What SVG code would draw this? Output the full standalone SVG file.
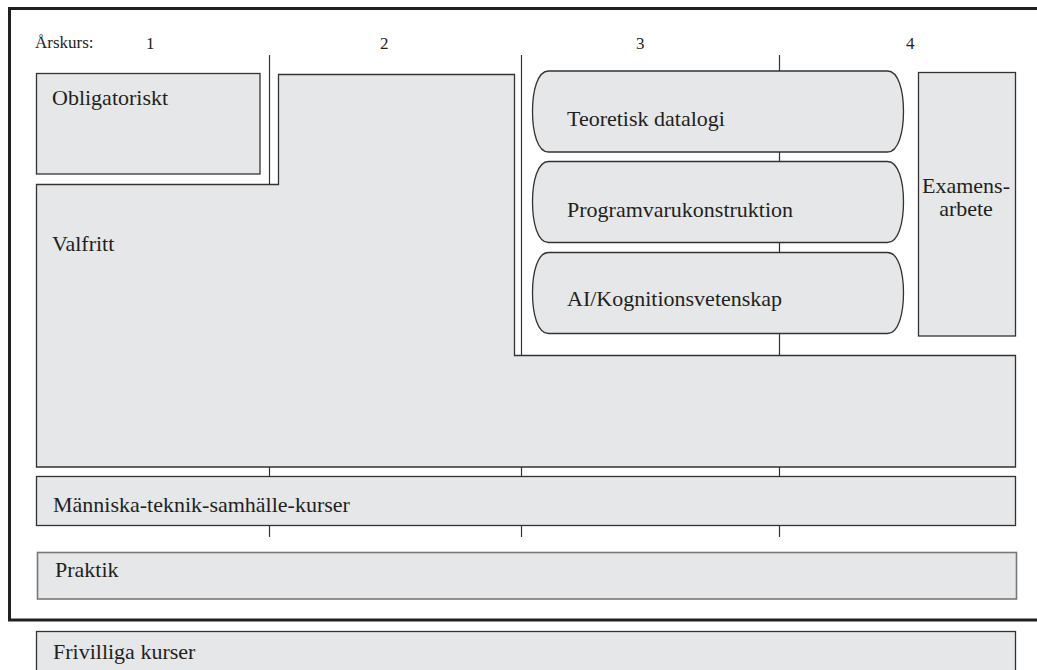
<svg xmlns="http://www.w3.org/2000/svg" width="1037" height="670" viewBox="0 0 1037 670">
<style>
text{font-family:"Liberation Serif","Times New Roman",serif;fill:#231f20}
.lbl{font-size:22px}
.yr{font-size:17px}
.box{fill:#e6e7e8;stroke:#333;stroke-width:1.3}
.ln{stroke:#333;stroke-width:1.2;fill:none}
</style>
<defs>
<path id="pill" d="M16 0 H355 C366 0 371 20 371 40.5 C371 61 366 81 355 81 H16 C5 81 0 61 0 40.5 C0 20 5 0 16 0 Z"/>
</defs>
<rect width="1037" height="670" fill="#fff"/>
<path d="M1040 8.5 H9.5 V620 H1040" fill="none" stroke="#231f20" stroke-width="3"/>
<g id="labels">
<text class="yr" x="35" y="48">Årskurs:</text>
<text class="yr" x="146" y="49">1</text>
<text class="yr" x="380" y="49">2</text>
<text class="yr" x="636" y="49">3</text>
<text class="yr" x="906" y="49">4</text>
</g>
<g id="connectors">
<line class="ln" x1="269.5" y1="55" x2="269.5" y2="184"/>
<line class="ln" x1="521.5" y1="55" x2="521.5" y2="355"/>
<line class="ln" x1="779.5" y1="55" x2="779.5" y2="355"/>
<line class="ln" x1="269.5" y1="467" x2="269.5" y2="476"/>
<line class="ln" x1="521.5" y1="467" x2="521.5" y2="476"/>
<line class="ln" x1="779.5" y1="467" x2="779.5" y2="476"/>
<line class="ln" x1="269.5" y1="525" x2="269.5" y2="537"/>
<line class="ln" x1="521.5" y1="525" x2="521.5" y2="537"/>
<line class="ln" x1="779.5" y1="525" x2="779.5" y2="537"/>
</g>
<g id="obligatoriskt">
<rect class="box" x="36.5" y="73.5" width="223.5" height="100.5"/>
<text class="lbl" x="52" y="105">Obligatoriskt</text>
</g>
<g id="valfritt">
<path class="box" d="M36.5 184.5 H278.5 V74.5 H514.5 V355.5 H1015.5 V467 H36.5 Z"/>
<text class="lbl" x="52" y="251">Valfritt</text>
</g>
<g id="teoretisk">
<use href="#pill" class="box" x="532.5" y="71"/>
<text class="lbl" x="567" y="126">Teoretisk datalogi</text>
</g>
<g id="programvaru">
<use href="#pill" class="box" x="532.5" y="161.5"/>
<text class="lbl" x="567" y="217">Programvarukonstruktion</text>
</g>
<g id="ai">
<use href="#pill" class="box" x="532.5" y="252.5"/>
<text class="lbl" x="567" y="306">AI/Kognitionsvetenskap</text>
</g>
<g id="examensarbete">
<rect class="box" x="918.5" y="72.5" width="97" height="263.5"/>
<text class="lbl" x="966" y="193" text-anchor="middle">Examens-</text>
<text class="lbl" x="966" y="216" text-anchor="middle">arbete</text>
</g>
<g id="mts">
<rect class="box" x="36.5" y="476.5" width="979" height="49"/>
<text class="lbl" x="53" y="512">Människa-teknik-samhälle-kurser</text>
</g>
<g id="praktik">
<rect class="box" x="37.5" y="552.5" width="979" height="46.5" style="stroke:#777;stroke-width:1.6"/>
<text class="lbl" x="55" y="577">Praktik</text>
</g>
<g id="frivilliga">
<rect class="box" x="36.5" y="631.5" width="979" height="45"/>
<text class="lbl" x="53" y="659">Frivilliga kurser</text>
</g>
</svg>
